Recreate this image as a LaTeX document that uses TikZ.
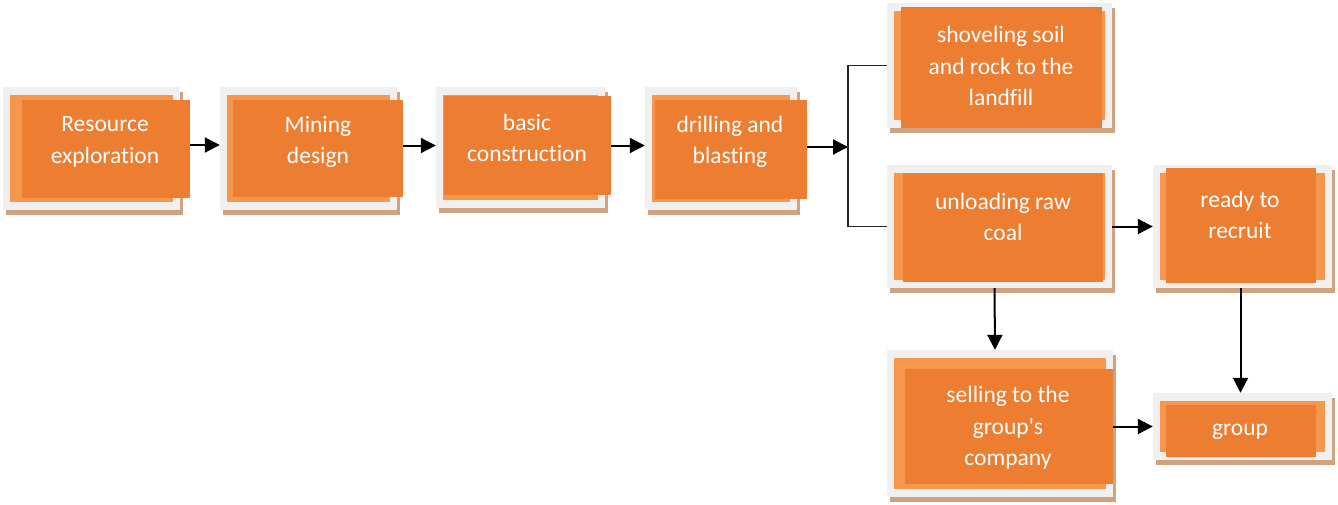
\documentclass[tikz,border=0pt]{standalone}
\usepackage{fontspec}
\newfontfamily\boxfont{Carlito}[Ligatures=NoCommon]
\usetikzlibrary{calc,fit,arrows.meta}
\definecolor{darkc}{HTML}{ED7D31}
\definecolor{lightc}{HTML}{F6974D}
\definecolor{greyc}{HTML}{F0F0F0}
\definecolor{tanc}{HTML}{D0A27F}
\tikzset{
  txt/.style={text=white, align=center, font=\boxfont\fontsize{23.5}{31.5}\selectfont, inner sep=0},
  arr/.style={draw=black, line width=2pt, -{Triangle[length=15pt,width=15pt]}},
  bracketline/.style={draw=black!85, line width=1.5pt}
}
\newcommand{\obox}[7]{%
  \fill[tanc] ($#2+(3,5)$) rectangle ($#3+(3,5)$);
  \node[fit={#2 #3}, inner sep=0, fill=greyc] (#1g) {};
  \fill[lightc] ($#2+(7,8)$) rectangle ($#3+(-7,-8)$);
  \node[fit={#4 #5}, inner sep=0, fill=darkc] (#1) {};
  \node[txt] (#1t) at #6 {#7};
}
\begin{document}
\begin{tikzpicture}[x=1pt,y=-1pt]
\useasboundingbox (0,0) rectangle (1338,504);
\obox{b1}{(3,87)}{(180,210)}{(22,100)}{(190,198)}{(105,142)}{Resource\\exploration}
\obox{b2}{(220,87)}{(397,210)}{(233,100)}{(403,197)}{(318,142)}{Mining\\design}
\obox{b3}{(436,87)}{(605,208)}{(444,96)}{(611,195)}{(527,138)}{basic\\construction}
\obox{b4}{(645,87)}{(797,210)}{(655,100)}{(807,199)}{(730,142)}{drilling and\\blasting}
\obox{sh}{(887,3)}{(1112,128)}{(901,7)}{(1102,128)}{(1001,66)}{shoveling soil\\and rock to the\\landfill}
\obox{un}{(887,165)}{(1112,288)}{(903,173)}{(1103,282)}{(1003,217)}{unloading raw\\coal}
\obox{rd}{(1153,165)}{(1332,288)}{(1166,168)}{(1316,283)}{(1240,215)}{ready to\\recruit}
\obox{sl}{(887,350)}{(1113,497)}{(905,369)}{(1113,484)}{(1008,428)}{selling to the\\group's\\company}
\obox{gr}{(1153,393)}{(1332,460)}{(1166,405)}{(1316,457)}{(1240,432)}{group}

\draw[arr] ([yshift=4pt]b1.east) -- ([yshift=4pt]b1.east -| b2g.west);
\draw[arr] ([yshift=3pt]b2.east) -- ([yshift=3pt]b2.east -| b3g.west);
\draw[arr] ([yshift=0pt]b3.east) -- ([yshift=0pt]b3.east -| b4g.west);
\coordinate (bx) at (848,147);
\draw[arr] (b4.east |- bx) -- (bx);
\draw[bracketline] (shg.west) -| (bx) |- (ung.west);
\draw[arr] (ung.east) -- (rdg.west);
\draw[arr] ([xshift=-5pt]ung.south) -- ([xshift=-5pt]slg.north);
\draw[arr] ([xshift=-2pt]rdg.south) -- ([xshift=-2pt]grg.north);
\draw[arr] (sl.east) -- (grg.west);
\end{tikzpicture}
\end{document}
